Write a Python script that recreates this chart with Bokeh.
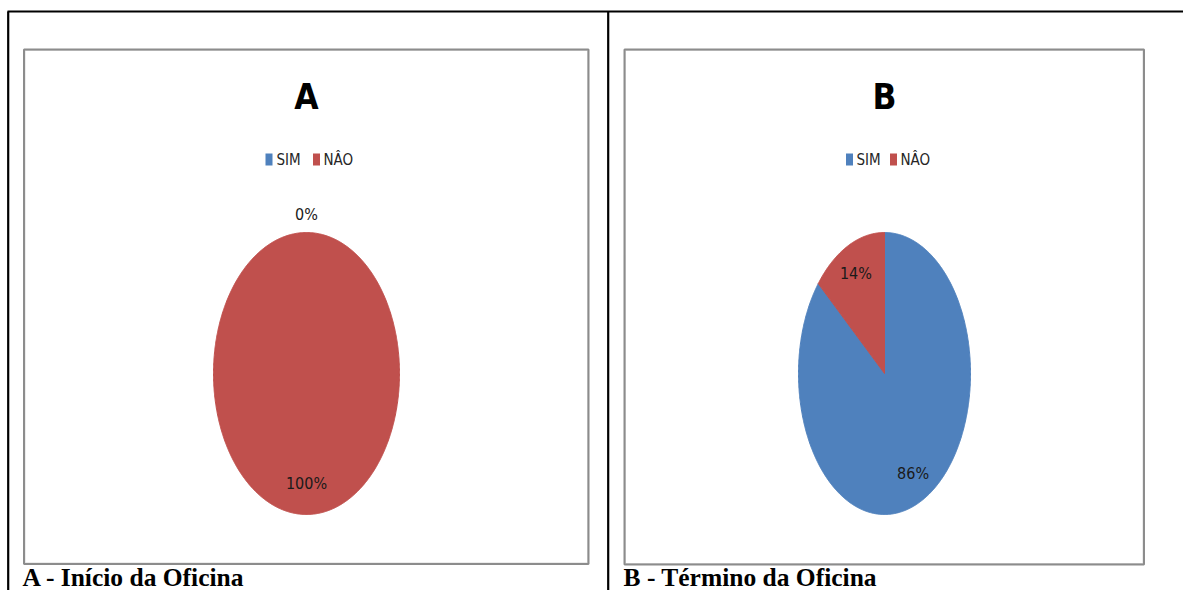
import numpy as np
from bokeh.plotting import figure
from bokeh.models import Range1d, ColumnDataSource
from bokeh.core.properties import value
from bokeh.embed import file_html
from bokeh.resources import INLINE

# --- data -------------------------------------------------------------
categories = ["SIM", "NÂO"]
inicio = [0, 100]      # A - Início da Oficina (%)
termino = [86, 14]     # B - Término da Oficina (%)
titles = ["A", "B"]
captions = ["A - Início da Oficina", "B - Término da Oficina"]
colors = ["#4F81BD", "#C0504D"]

W, H = 1183, 590
SANS = "DejaVu Sans Condensed"
SERIF = "Liberation Serif"

p = figure(width=W, height=H, x_range=Range1d(0, W), y_range=Range1d(H, 0),
           output_backend="svg", toolbar_location=None,
           x_axis_type=None, y_axis_type=None, min_border=0)
p.outline_line_color = None
p.xgrid.visible = False
p.ygrid.visible = False
p.background_fill_color = "white"
p.border_fill_color = "white"

# table frame
p.segment(x0=[7, 7.7, 607.7], y0=[11, 11, 11], x1=[W, 7.7, 607.7], y1=[11, H, H],
          line_color="black", line_width=2.2)

# one chart area per panel
panels = [
    dict(values=inicio, box=(23.5, 588, 49, 563.5), cx=306, cy=373, rx=93, ry=141,
         leg=(268.5, 276, 316, 323), cap_x=22),
    dict(values=termino, box=(624, 1143.5, 49, 564), cx=884, cy=373, rx=86, ry=141,
         leg=(849, 856, 893, 900), cap_x=623),
]

for i, pn in enumerate(panels):
    l, r, t, b = pn["box"]
    p.quad(left=[l + 1], right=[r - 1], top=[t + 1], bottom=[b - 1],
           fill_color=None, line_color="#d9d9d9", line_width=1)
    p.quad(left=[l], right=[r], top=[t], bottom=[b],
           fill_color=None, line_color="#8c8c8c", line_width=2)

    cx, cy, rx, ry = pn["cx"], pn["cy"], pn["rx"], pn["ry"]
    vals = pn["values"]
    total = float(sum(vals))

    # slices start at 12 o'clock and run clockwise
    xs, ys, fills = [], [], []
    lx, ly, ltxt = [], [], []
    start = 90.0
    for v, c in zip(vals, colors):
        sweep = 360.0 * v / total
        end = start - sweep
        mid = np.radians((start + end) / 2.0)
        if v > 0:
            th = np.radians(np.linspace(start, end, max(int(sweep * 2), 4)))
            px = cx + rx * np.cos(th)
            py = cy - ry * np.sin(th)
            if sweep < 360:
                px = np.concatenate([[cx], px])
                py = np.concatenate([[cy], py])
            xs.append(list(px))
            ys.append(list(py))
            fills.append(c)
            f = 0.78
        else:
            f = 1.13
        lx.append(cx + f * rx * np.cos(mid))
        ly.append(cy - f * ry * np.sin(mid))
        ltxt.append(f"{v}%")
        start = end

    p.patches(xs="xs", ys="ys", fill_color="color", line_color="color", line_width=1,
              source=ColumnDataSource(dict(xs=xs, ys=ys, color=fills)))
    p.text(x=lx, y=ly, text=ltxt, text_font=value(SANS), text_font_size="16px",
           text_align="center", text_baseline="middle", text_color="#1a1a1a")

    # title
    p.text(x=[cx], y=[96], text=[titles[i]], text_font=value(SANS),
           text_font_size="35px", text_font_style="bold", text_align="center",
           text_baseline="middle", text_color="black")

    # legend
    sq1, t1, sq2, t2 = pn["leg"]
    p.rect(x=[sq1, sq2], y=[159, 159], width=7, height=12, fill_color=colors,
           line_color=None)
    p.text(x=[t1, t2], y=[159, 159], text=categories, text_font=value(SANS),
           text_font_size="15px", text_align="left", text_baseline="middle",
           text_color="#262626")

    # caption under the chart
    p.text(x=[pn["cap_x"]], y=[562], text=[captions[i]], text_font=value(SERIF),
           text_font_size="25.5px", text_font_style="bold", text_align="left",
           text_baseline="top", text_color="black")

open("out.html", "w").write(file_html(p, INLINE))
